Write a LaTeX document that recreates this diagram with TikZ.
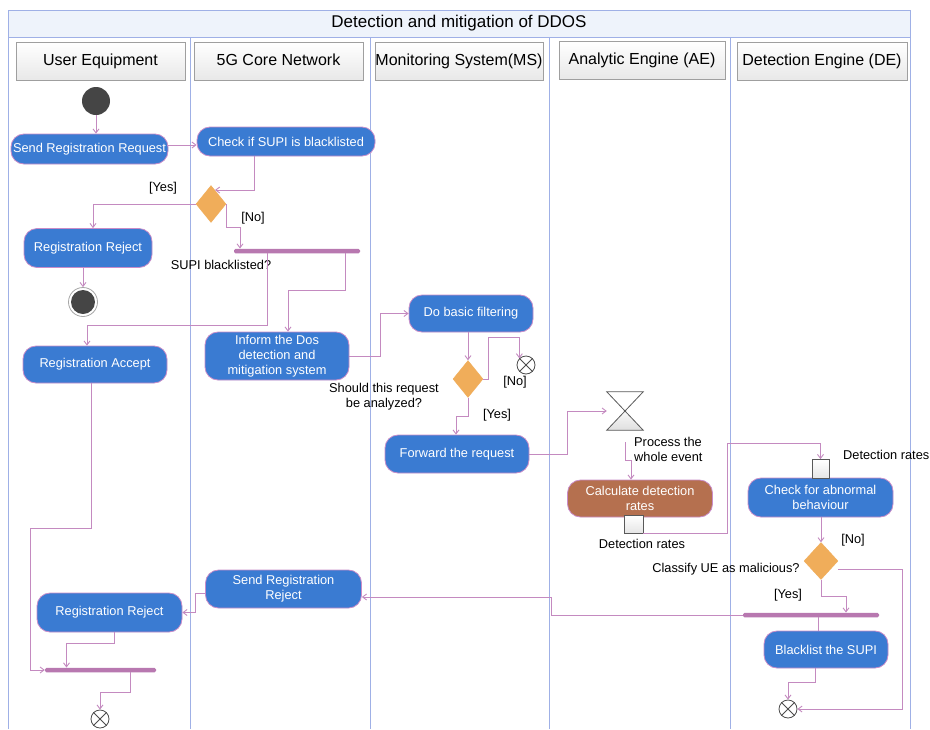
\documentclass[tikz,border=0pt]{standalone}
\usepackage{fontspec}
\setmainfont{Liberation Sans}
\usetikzlibrary{arrows.meta,shapes.geometric}
\definecolor{nodeblue}{HTML}{3A7BD2}
\definecolor{nodebrown}{HTML}{B5704F}
\definecolor{nodeborder}{HTML}{C98CC8}
\definecolor{linecol}{HTML}{C48AC0}
\definecolor{barcol}{HTML}{B878B0}
\definecolor{decorange}{HTML}{F0AD5A}
\definecolor{framecol}{HTML}{9FB0E6}
\definecolor{titlefill}{HTML}{EEF3FB}
\definecolor{darkdot}{HTML}{454545}
\tikzset{
  act/.style={draw=nodeborder, fill=nodeblue, rounded corners=13pt, text=white,
    font=\fontsize{12.8}{15}\selectfont, align=center, inner sep=0pt, line width=0.8pt},
  hdr/.style={draw=gray!75, top color=white, bottom color=gray!18, inner sep=0pt,
    font=\fontsize{16}{18}\selectfont, line width=0.8pt},
  conn/.style={draw=linecol, line width=0.9pt, -{Straight Barb[length=4pt,width=6pt]}},
  plain/.style={draw=linecol, line width=0.9pt},
  lbl/.style={font=\fontsize{12.8}{15}\selectfont, inner sep=0pt, align=center},
  dec/.style={diamond, fill=decorange, draw=decorange, inner sep=0pt, minimum width=30pt, minimum height=37pt},
  bar/.style={fill=barcol, inner sep=0pt, minimum height=4.5pt, rounded corners=1.5pt},
  pin/.style={draw=gray!70!black, top color=white, bottom color=gray!20, inner sep=0pt, line width=0.7pt},
  flowfinal/.style={circle, draw=gray!60!black, fill=white, inner sep=0pt, minimum size=18pt, line width=0.8pt},
}
\begin{document}
\begin{tikzpicture}[x=1pt,y=-1pt]
\useasboundingbox (0,0) rectangle (930,729);
\fill[white] (0,0) rectangle (930,729);
% frame and lanes
\draw[framecol, line width=0.9pt, fill=titlefill] (8,10) rectangle (910,37);
\node[font=\fontsize{17}{19}\selectfont] (title) at (459,23) {Detection and mitigation of DDOS};
\draw[framecol, line width=1pt] (8,37) -- (8,729);
\draw[framecol, line width=1pt] (190,37) -- (190,729);
\draw[framecol, line width=1pt] (370,37) -- (370,729);
\draw[framecol, line width=1pt] (549,37) -- (549,729);
\draw[framecol, line width=1pt] (730,37) -- (730,729);
\draw[framecol, line width=1pt] (910,37) -- (910,729);
% headers
\node[hdr, minimum width=169pt, minimum height=38pt] (h1) at (100.5,61) {User Equipment};
\node[hdr, minimum width=169pt, minimum height=38pt] (h2) at (278.5,61) {\raisebox{2pt}{5G Core Network}};
\node[hdr, minimum width=168pt, minimum height=38pt] (h3) at (459,61) {Monitoring System(MS)};
\node[hdr, minimum width=166pt, minimum height=38pt] (h4) at (642,60) {\raisebox{2pt}{Analytic Engine (AE)}};
\node[hdr, minimum width=170pt, minimum height=38pt] (h5) at (822,61) {Detection Engine (DE)};
% start
\node[circle, fill=darkdot, minimum size=28pt, inner sep=0pt] (start) at (96,101) {};
% actions
\node[act, minimum width=157pt, minimum height=30pt] (srr) at (89.5,149) {Send Registration Request};
\node[act, minimum width=178pt, minimum height=29pt] (chk) at (286,141.5) {Check if SUPI is blacklisted};
\node[act, minimum width=128pt, minimum height=39pt] (rr1) at (88,248) {Registration Reject};
\node[act, minimum width=144pt, minimum height=37pt] (racc) at (95,364.5) {Registration Accept};
\node[act, minimum width=144pt, minimum height=48pt] (inform) at (277,356) {Inform the Dos\\detection and\\mitigation system};
\node[act, minimum width=124pt, minimum height=37pt] (dbf) at (471,313.5) {Do basic filtering};
\node[act, minimum width=144pt, minimum height=38pt] (fwd) at (457,454) {Forward the request};
\node[act, fill=nodebrown, minimum width=145pt, minimum height=37pt] (calc) at (640,498.5) {Calculate detection\\rates};
\node[act, minimum width=145pt, minimum height=39pt] (chkab) at (820.5,497.5) {Check for abnormal\\behaviour};
\node[act, minimum width=156pt, minimum height=38pt] (sendrr) at (283.5,589) {Send Registration\\Reject};
\node[act, minimum width=145pt, minimum height=39pt] (rr2) at (109.5,612.5) {Registration Reject};
\node[act, minimum width=124pt, minimum height=37pt] (blk) at (826,649.5) {Blacklist the SUPI};
% final nodes
\node[circle, draw=gray!70, fill=white, minimum size=29pt, inner sep=0pt, line width=0.8pt] (final1) at (83,302) {};
\fill[darkdot] (final1.center) circle (12);
\node[flowfinal] (ff1) at (526,365) {};
\node[flowfinal] (ff2) at (788,709) {};
\node[flowfinal] (ff3) at (100,719) {};
\foreach \f in {ff1,ff2,ff3}{
  \draw[gray!60!black, line width=0.8pt] (\f.north west) -- (\f.south east) (\f.north east) -- (\f.south west);
}
% decisions
\node[dec] (d1) at (211,204) {};
\node[dec] (d2) at (468,379) {};
\node[dec, minimum width=34pt] (d3) at (821,561) {};
% bars
\node[bar, minimum width=126pt] (bar1) at (297,251) {};
\node[bar, minimum width=136pt] (bar2) at (811,615) {};
\node[bar, minimum width=111pt] (bar3) at (100.5,670) {};
% hourglass
\node[minimum width=36pt, minimum height=38pt, inner sep=0pt] (hg) at (625,411) {};
\draw[gray!70!black, line width=0.8pt, fill=white] (hg.north west) -- (hg.north east) -- (hg.center) -- cycle;
\draw[gray!70!black, line width=0.8pt, top color=gray!5, bottom color=gray!25] (hg.center) -- (hg.south east) -- (hg.south west) -- cycle;
% pins
\node[pin, minimum width=19pt, minimum height=18pt] (pin1) at (633.5,524) {};
\node[pin, minimum width=17pt, minimum height=19pt] (pin2) at (820.5,469) {};
% labels
\node[lbl] (lyes1) at (163,188) {[Yes]};
\node[lbl] (lno1) at (253,218) {[No]};
\node[lbl] (lsupi) at (221,265) {SUPI blacklisted?};
\node[lbl] (lshould) at (384,397) {Should this request\\be analyzed?};
\node[lbl] (lno2) at (515,382) {[No]};
\node[lbl] (lyes2) at (497,415) {[Yes]};
\node[lbl, anchor=west, align=left] (lproc) at (634,449) {Process the\\whole event};
\node[lbl] (ldr1) at (642,544) {Detection rates};
\node[lbl, anchor=west] (ldr2) at (843,455) {Detection rates};
\node[lbl] (lno3) at (853,540) {[No]};
\node[lbl] (lclass) at (726,569) {Classify UE as malicious?};
\node[lbl] (lyes3) at (788,595) {[Yes]};
% connectors
\draw[conn] (start.south) -- (start.south |- srr.north);
\draw[conn] ([yshift=4pt]srr.east) -- ([yshift=4pt]srr.east -| chk.west);
\draw[conn] ([xshift=-32pt]chk.south) |- ([xshift=4pt,yshift=14pt]d1.center);
\draw[conn] (d1.west) -| ([xshift=5pt]rr1.north);
\draw[conn] (d1.east) -- ++(0,23) -| ([xshift=-57pt]bar1.north);
\draw[conn] ([xshift=-30pt]bar1.south) -- ++(0,72) -| ([xshift=-8pt]racc.north);
\draw[conn] ([xshift=48pt]bar1.south) -- ++(0,37) -| ([xshift=11pt]inform.north);
\draw[conn] (final1 |- rr1.south) -- (final1.north);
\draw[conn] ([xshift=-4pt]racc.south) -- ++(0,145) -- ++(-61,0) |- (bar3.west);
\draw[conn] (inform.east) -- ++(31,0) |- (dbf.west);
\draw[conn] (d2 |- dbf.south) -- (d2.north);
\draw[conn] (d2.east) -- ++(5,0) -- ++(0,-42) -| (ff1.north west);
\draw[conn] (d2.south) -- ++(0,19) -| ([xshift=-1pt]fwd.north);
\draw[conn] (fwd.east) -- ++(38,0) |- (hg.west);
\draw[conn] ([yshift=-12pt]hg.south) -- ++(0,18) -| ([xshift=-9pt]calc.north);
\draw[conn] (pin1.south east) -- ++(84,0) -- ++(0,-90) -| (pin2.north);
\draw[conn] (d3 |- chkab.south) -- (d3.north);
\draw[conn] ([yshift=-8pt]d3.east) -- ++(64,0) |- (ff2.east);
\draw[conn] (d3.south) -- ++(0,17) -| ([xshift=35pt]bar2.north);
\draw[plain] ([xshift=7pt]bar2.south) -- ([xshift=7pt]bar2.south |- blk.north);
\draw[conn] ([xshift=-11pt]blk.south) -- ++(0,14) -| (ff2.north);
\draw[conn] (bar2.west) -- ++(-191,0) |- ([yshift=-8pt]sendrr.east);
\draw[conn] ([yshift=-4pt]sendrr.west) -- ++(-10,0) |- (rr2.east);
\draw[conn] ([xshift=5pt]rr2.south) -- ++(0,11) -| ([xshift=-34pt]bar3.north);
\draw[conn] ([xshift=29.5pt]bar3.south) -- ++(0,20) -| (ff3.north);
\end{tikzpicture}
\end{document}
